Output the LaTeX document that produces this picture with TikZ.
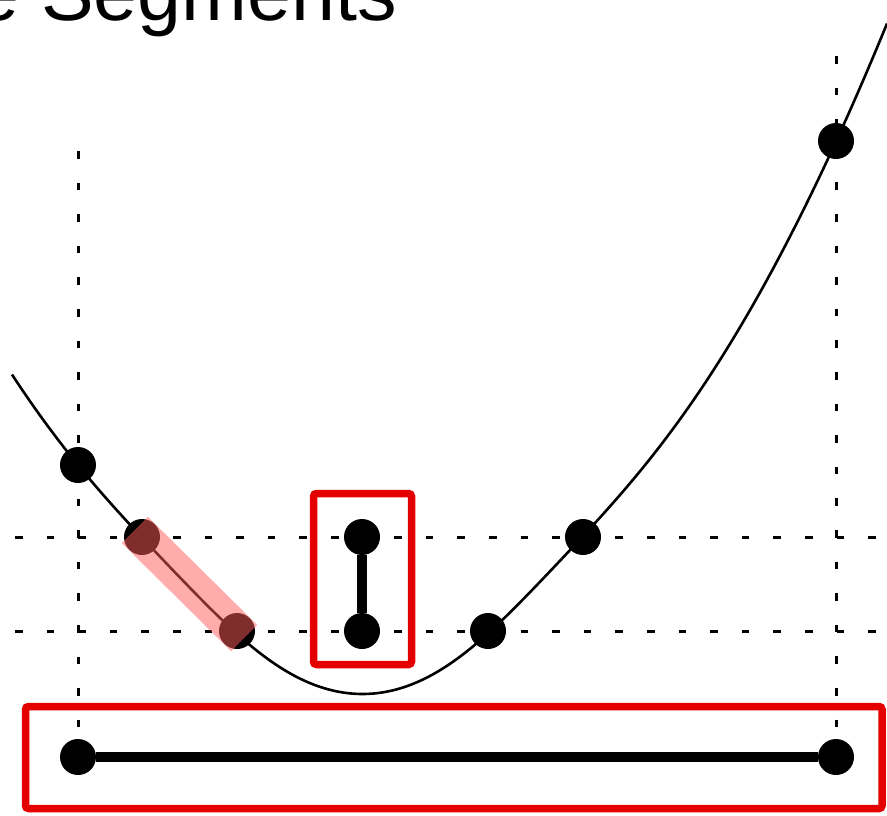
\documentclass[tikz,border=0pt]{standalone}
\usepackage{fontspec}
\setmainfont{Liberation Sans}
\usetikzlibrary{calc}
\definecolor{boxred}{RGB}{228,0,0}
\definecolor{hlpink}{RGB}{255,90,90}
\begin{document}
\begin{tikzpicture}[x=1pt,y=-1pt,
  guide/.style={line width=3pt, dash pattern=on 7.5pt off 24.1pt},
  curveline/.style={line width=2.6pt, line join=round},
  dot/.style={circle, fill=black, inner sep=0pt, minimum size=36pt},
  seg/.style={line width=10pt},
  frame/.style={draw=boxred, line width=7.5pt, rounded corners=3pt, inner sep=0pt},
  hl/.style={draw=hlpink, line width=37pt, opacity=0.5}]
\useasboundingbox (0,0) rectangle (887,815);
\clip (0,0) rectangle (887,815);
% title
\node[anchor=base east, inner sep=0pt, font=\fontsize{79}{80}\selectfont] (title) at (397,20) {e Segments};
% guide lines
\draw[guide] (15,537) -- (887,537);
\draw[guide] (15,631) -- (887,631);
\draw[guide] (78,151) -- (78,770);
\draw[guide] (836,56) -- (836,770);
% curve
\draw[curveline] plot[domain=12:887, samples=220, smooth]
  (\x, {694 - ((\x-362.5)/100)*((\x-362.5)/100)*( ifthenelse(\x<362.5,23.5,23.8)
     + 16/(1 + ((\x-362.5)/230)*((\x-362.5)/230)*((\x-362.5)/230)*((\x-362.5)/230)) )});
% dots
\node[dot] (a) at (78,465) {};
\node[dot] (b) at (142,537) {};
\node[dot] (c) at (237,631) {};
\node[dot] (d) at (488,631) {};
\node[dot] (e) at (583,537) {};
\node[dot] (f) at (836,141) {};
\node[dot] (mtop) at (362,537) {};
\node[dot] (mbot) at (362,631) {};
\node[dot] (lo) at (78,757) {};
\node[dot] (hi) at (836,757) {};
\draw[seg] (mtop) -- (mbot);
\draw[seg] (lo) -- (hi);
% highlight
\draw[hl] ($(b.center)!-10pt!(c.center)$) -- ($(c.center)!-10pt!(b.center)$);
% frames
\node[frame, minimum width=98pt, minimum height=171pt] (midbox) at (362.5,579) {};
\node[frame, minimum width=856.5pt, minimum height=102pt] (lowbox) at (453.75,757.5) {};
\end{tikzpicture}
\end{document}
